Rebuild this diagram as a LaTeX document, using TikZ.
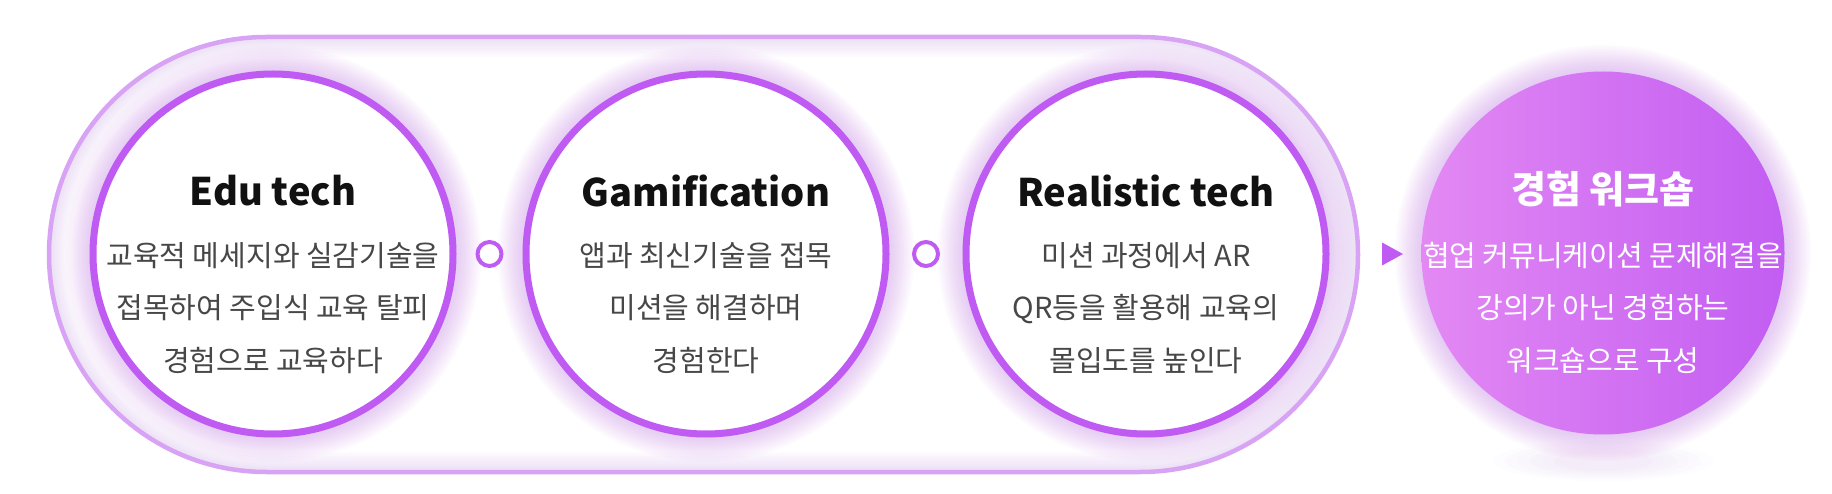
\documentclass[tikz,border=0pt]{standalone}
\usepackage{fontspec}
\setmainfont{Noto Sans CJK KR}
\usetikzlibrary{calc}
\definecolor{ringc}{HTML}{BF5AF2}
\definecolor{glowc}{HTML}{C27AF4}
\definecolor{pillc}{HTML}{D8A3F5}
\definecolor{bodyc}{HTML}{474747}
\definecolor{titlec}{HTML}{111111}
\definecolor{wsl}{HTML}{E389F3}
\definecolor{wsr}{HTML}{C25DF2}
\begin{document}
\begin{tikzpicture}[x=1pt,y=1pt,
  stepcirc/.style={circle, draw=ringc, line width=7pt, fill=white, minimum size=360pt, inner sep=0pt},
  wscirc/.style={circle, minimum size=363pt, inner sep=0pt, left color=wsl, right color=wsr},
  dotring/.style={circle, draw=ringc, line width=4pt, minimum size=24pt, inner sep=0pt},
  titletext/.style={font=\fontsize{38}{42}\selectfont\bfseries, text=titlec, inner sep=0pt},
  bodytext/.style={font=\fontsize{29}{52.5}\selectfont, text=bodyc, align=center, inner sep=0pt},
  wstitle/.style={titletext, text=white},
  wsbody/.style={bodytext, text=white},
]
\useasboundingbox (0,0) rectangle (1832,493);
\fill[white] (0,0) rectangle (1832,493);

% pill with inner glow
\begin{scope}
  \clip[rounded corners=217.5pt] (49,21) rectangle (1358,456);
  \foreach \k in {0,...,9}
    \draw[glowc, opacity=0.022, line width={4+4*\k}, rounded corners=217.5pt] (49,21) rectangle (1358,456);
\end{scope}
\draw[pillc, line width=4.5pt, rounded corners=217.5pt] (49,21) rectangle (1358,456);

% centres
\coordinate (p1) at (273,239);
\coordinate (p2) at (706,239);
\coordinate (p3) at (1146,239);
\coordinate (p4) at (1603,240);

% glows
\foreach \p in {p1,p2,p3,p4}
  \foreach \k in {0,...,13}
    \fill[glowc, opacity=0.03] (\p) circle ({208-2*\k});

% reflection under workshop circle
\foreach \k in {0,...,5}
  \fill[glowc, opacity=0.02] (1603,32) ellipse ({110-12*\k} and {20-2*\k});

% circles
\node[stepcirc] (c1) at (p1) {};
\node[stepcirc] (c2) at (p2) {};
\node[stepcirc] (c3) at (p3) {};
\node[wscirc] (c4) at (p4) {};

% small rings and arrow
\node[dotring] (r1) at ($(c1.east)!0.5!(c2.west)$) {};
\node[dotring] (r2) at ($(c2.east)!0.5!(c3.west)$) {};
\coordinate (tri) at (1392,239);
\fill[ringc] ($(tri)+(-10,11.5)$) -- ($(tri)+(11,0)$) -- ($(tri)+(-10,-11.5)$) -- cycle;

% texts
\node[titletext] (t1) at ($(c1)+(0,63)$) {Edu tech};
\node[bodytext] (b1) at ($(c1)+(0,-54)$) {교육적 메세지와 실감기술을\\접목하여 주입식 교육 탈피\\경험으로 교육하다};

\node[titletext] (t2) at ($(c2)+(0,63)$) {Gamification};
\node[bodytext] (b2) at ($(c2)+(0,-54)$) {앱과 최신기술을 접목\\미션을 해결하며\\경험한다};

\node[titletext] (t3) at ($(c3)+(0,63)$) {Realistic tech};
\node[bodytext] (b3) at ($(c3)+(0,-54)$) {미션 과정에서 AR\\QR등을 활용해 교육의\\몰입도를 높인다};

\node[wstitle] (t4) at ($(c4)+(0,64)$) {경험 워크숍};
\node[wsbody] (b4) at ($(c4)+(0,-55)$) {협업 커뮤니케이션 문제해결을\\강의가 아닌 경험하는\\워크숍으로 구성};
\end{tikzpicture}
\end{document}
